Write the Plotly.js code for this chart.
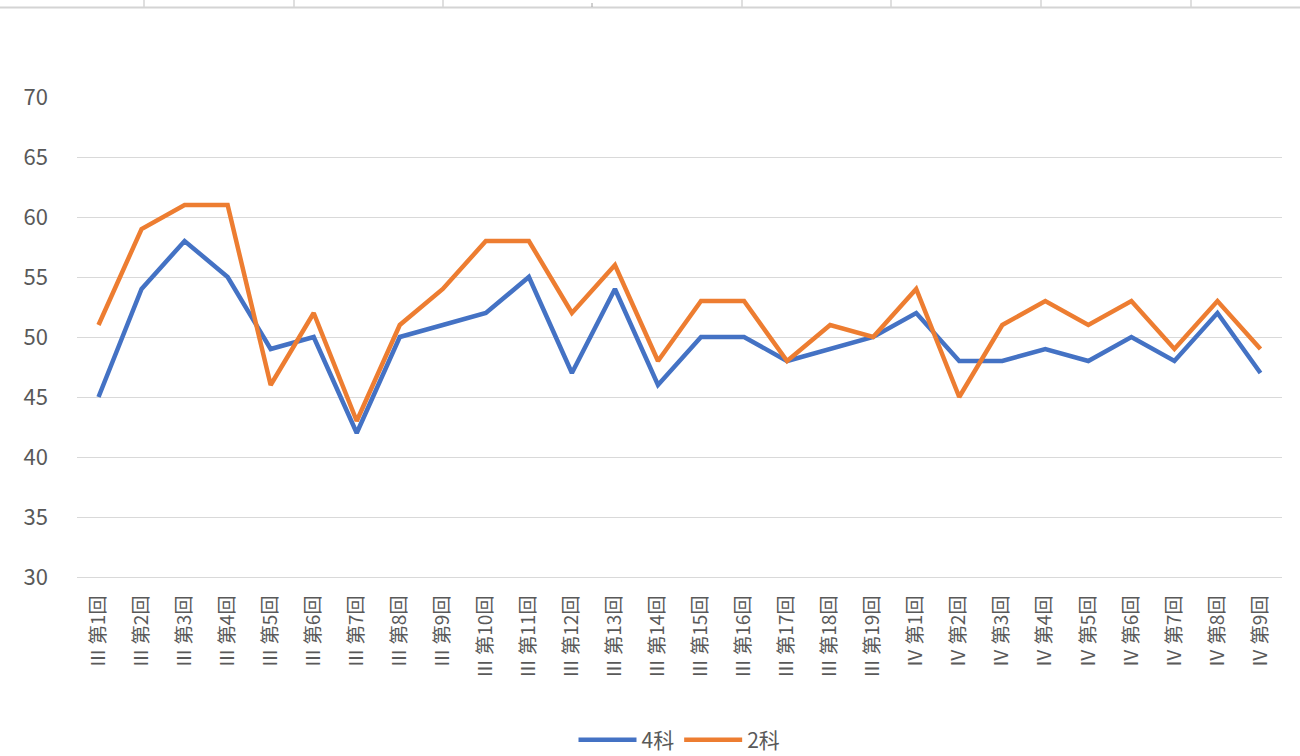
<!DOCTYPE html>
<html>
<head>
<meta charset="utf-8">
<script src="https://cdn.plot.ly/plotly-3.0.1.min.js"></script>
<style>
html,body{margin:0;padding:0;background:#fff;}
#chart{width:1300px;height:756px;}
</style>
</head>
<body>
<div id="chart"></div>
<script>
const categories = [
  "Ⅲ 第1回","Ⅲ 第2回","Ⅲ 第3回","Ⅲ 第4回","Ⅲ 第5回","Ⅲ 第6回","Ⅲ 第7回","Ⅲ 第8回","Ⅲ 第9回","Ⅲ 第10回",
  "Ⅲ 第11回","Ⅲ 第12回","Ⅲ 第13回","Ⅲ 第14回","Ⅲ 第15回","Ⅲ 第16回","Ⅲ 第17回","Ⅲ 第18回","Ⅲ 第19回",
  "Ⅳ 第1回","Ⅳ 第2回","Ⅳ 第3回","Ⅳ 第4回","Ⅳ 第5回","Ⅳ 第6回","Ⅳ 第7回","Ⅳ 第8回","Ⅳ 第9回"
];
const series4 = [45,54,58,55,49,50,42,50,51,52,55,47,54,46,50,50,48,49,50,52,48,48,49,48,50,48,52,47];
const series2 = [51,59,61,61,46,52,43,51,54,58,58,52,56,48,53,53,48,51,50,54,45,51,53,51,53,49,53,49];
const seriesNames = ["4科","2科"];
const yTicks = [30,35,40,45,50,55,60,65,70];

const FONT = "'Noto Sans CJK JP', 'Noto Sans', sans-serif";

// decorative spreadsheet cell borders at very top (paper coords)
const plotL = 77, plotR = 1282, plotT = 97, plotB = 577;
const pw = plotR - plotL, ph = plotB - plotT;
const px = v => (v - plotL) / pw;
const py = v => (plotB - v) / ph;
const cellX = [144,294,443,742,891,1041,1191];
const shapes = [{type:'line', xref:'paper', yref:'paper', x0:px(0), x1:px(1300), y0:py(7.5), y1:py(7.5), line:{color:'#D4D4D4', width:2}}];
cellX.forEach(x => shapes.push({type:'line', xref:'paper', yref:'paper', x0:px(x), x1:px(x), y0:py(0), y1:py(7), line:{color:'#D4D4D4', width:1.5}}));
shapes.push({type:'line', xref:'paper', yref:'paper', x0:px(592), x1:px(592), y0:py(3), y1:py(7), line:{color:'#A0A0A0', width:1}});

const traces = [
  {x: categories, y: series4, name: seriesNames[0], type:'scatter', mode:'lines', line:{color:'#4472C4', width:4.5, shape:'linear'}},
  {x: categories, y: series2, name: seriesNames[1], type:'scatter', mode:'lines', line:{color:'#ED7D31', width:4.5, shape:'linear'}}
];

const layout = {
  width:1300, height:756,
  margin:{l:plotL, r:1300-plotR, t:plotT, b:756-plotB, pad:0, autoexpand:false},
  paper_bgcolor:'#fff', plot_bgcolor:'#fff',
  font:{family:FONT, color:'#595959', size:16},
  showlegend:true,
  legend:{orientation:'h', x:0.5, xanchor:'center', y:-(740-plotB)/ph, yanchor:'middle', font:{size:21, color:'#595959'}, itemwidth:58, tracegroupgap:0},
  xaxis:{type:'category', range:[-0.5, categories.length-0.5], automargin:false, tickangle:-90, showgrid:false, showline:true, linecolor:'#D9D9D9', linewidth:1, ticks:'', tickfont:{size:19, color:'#595959'}, ticklabelstandoff:10, fixedrange:true},
  yaxis:{range:[30,70], automargin:false, tickvals:yTicks, showgrid:true, gridcolor:'#D9D9D9', gridwidth:1, zeroline:false, showline:false, ticks:'', tickfont:{size:22, color:'#595959'}, ticklabelstandoff:28, fixedrange:true},
  shapes: shapes,
  hovermode:false
};
Plotly.newPlot('chart', traces, layout, {displayModeBar:false, staticPlot:true});
</script>
</body>
</html>
